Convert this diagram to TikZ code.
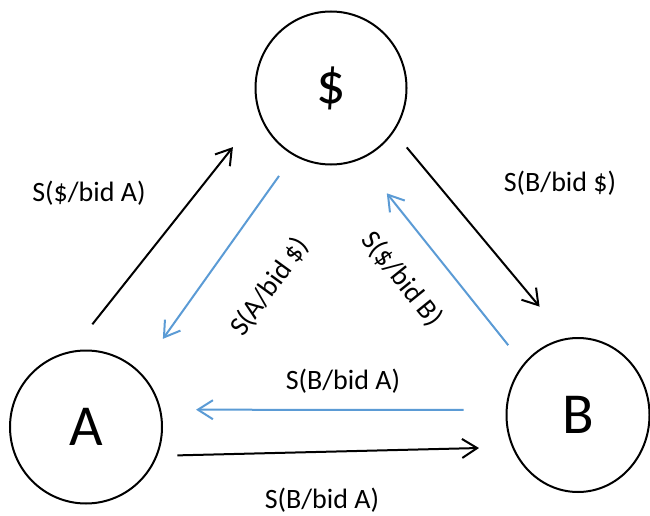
\documentclass[tikz,border=0pt]{standalone}
\usepackage{fontspec}
\setmainfont{Carlito}
\usetikzlibrary{shapes.geometric,arrows.meta}
\definecolor{bidblue}{RGB}{91,155,213}

\begin{document}
\begin{tikzpicture}[x=1pt,y=1pt,
    party/.style={draw, ellipse, line width=2pt, inner sep=0pt,
        font=\fontsize{58}{62}\selectfont},
    sale/.style={line width=2pt, -{Straight Barb[length=15pt,width=19pt]}},
    bid/.style={sale, bidblue},
    lbl/.style={font=\fontsize{28}{30}\selectfont, inner sep=0pt}]
    \useasboundingbox (0,0) rectangle (650,515);
    \node[party, minimum width=151pt, minimum height=153pt] (dollar) at (331,427) {\$};
    \node[party, minimum width=152pt, minimum height=153pt] (A) at (86,88) {A};
    \node[party, minimum width=143pt, minimum height=154pt] (B) at (578,100) {B};
    \draw[sale, shorten <=34pt, shorten >=42pt] (A.101) -- (dollar.200);
    \draw[bid, shorten <=25pt, shorten >=40pt] (dollar.241) -- (A.46);
    \draw[sale, shorten <=20pt, shorten >=41pt] (dollar.325) -- (B.99);
    \draw[bid, shorten <=24pt, shorten >=43pt] (B.137) -- (dollar.292);
    \draw[bid, shorten <=42pt, shorten >=35pt] (B.176) -- (A.13);
    \draw[sale, shorten <=20pt, shorten >=33pt] (A.338) -- (B.206);
    \node[lbl] (sdA) at (89,322) {S(\$/bid A)};
    \node[lbl] (sBd) at (560,332) {S(B/bid \$)};
    \node[lbl, rotate=54] (sAd) at (270,228) {S(A/bid \$)};
    \node[lbl, rotate=-51] (sdB) at (402,236) {S(\$/bid B)};
    \node[lbl] (sBA) at (343,134) {S(B/bid A)};
    \node[lbl] (sBA2) at (322,15) {S(B/bid A)};
\end{tikzpicture}
\end{document}
